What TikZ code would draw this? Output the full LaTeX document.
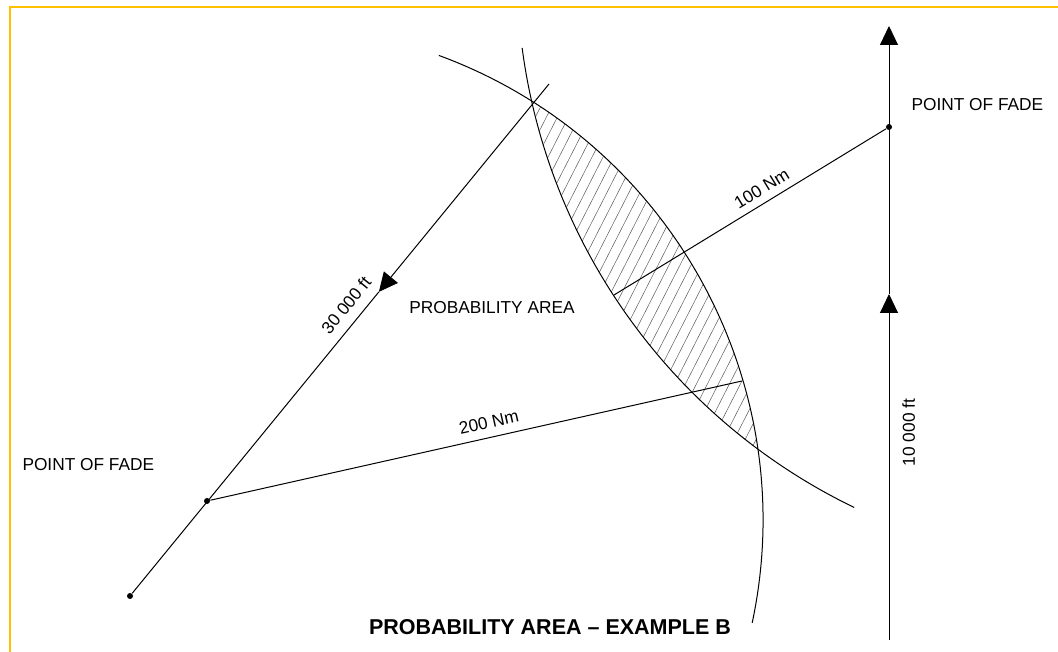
\documentclass[tikz,border=0pt]{standalone}
\usepackage{fontspec}
\setmainfont{Liberation Sans}
\definecolor{framegold}{RGB}{255,192,0}
\definecolor{hatchgray}{RGB}{90,90,90}
\usetikzlibrary{arrows.meta,calc}

\begin{document}
\begin{tikzpicture}[x=1pt, y=1pt, line width=1pt,
    lbl/.style={font=\fontsize{17.3}{20}\selectfont, inner sep=0pt},
    fadedot/.style={circle, fill=black, inner sep=0pt, minimum size=6pt},
    tri/.style={-{Triangle[length=19pt, width=18pt]}},
    hatchline/.style={hatchgray, line width=0.5pt}]
  \useasboundingbox (0,0) rectangle (1058,652);
  % frame
  \draw[framegold, line width=2pt] (10,0) -- (10,645) -- (1058,645);

  % centres of the two range arcs
  \coordinate (cA) at (268,132);
  \coordinate (cB) at (1114,682);

  % hatched probability region
  \begin{scope}
    \clip ($(cA)+(57.8:495)$) arc[start angle=57.8, end angle=8.5, radius=495]
      -- ($(cB)+(233:597)$) arc[start angle=233, end angle=192.7, radius=597] -- cycle;
    \foreach \k in {-24,...,20}
      \draw[hatchline] (640+\k*11,330) ++(243:300) -- ++(63:600);
  \end{scope}

  % range arcs
  \draw (cA) ++(69.8:495) arc[start angle=69.8, end angle=-12, radius=495];
  \draw (cB) ++(187.5:597) arc[start angle=187.5, end angle=244.2, radius=597];

  % points of fade
  \node[fadedot] (startL) at (130,56) {};
  \node[fadedot] (fadeL) at (207,151) {};
  \node[fadedot] (fadeR) at (889,525) {};

  % first track, descending
  \coordinate (diagEnd) at (549,568);
  \coordinate (diagTip) at ($(startL)!0.594!(diagEnd)$);
  \draw[tri] (diagEnd) -- (diagTip);
  \draw (diagTip) -- (startL) node[lbl, pos=0.08, sloped, above=10pt] {30 000 ft};

  % second track, climbing
  \coordinate (vBot) at (889,12);
  \coordinate (vMid) at (889,358);
  \coordinate (vTop) at (889,626);
  \draw[tri] (vBot) -- (vMid) node[lbl, pos=0.6, sloped, below=12.8pt] {10 000 ft};
  \draw[tri] (vMid) -- (vTop);

  % ranges
  \coordinate (end100) at (614,357);
  \coordinate (end200) at (742,271);
  \draw (end100) -- (fadeR) node[lbl, pos=0.57, sloped, above=7.5pt] {100 Nm};
  \draw (fadeL) -- (end200) node[lbl, pos=0.53, sloped, above=8.4pt] {200 Nm};

  % labels
  \node[lbl] (probArea) at (492,344) {PROBABILITY AREA};
  \node[lbl, anchor=west] (fadeTxtL) at (22,187) {POINT OF FADE};
  \node[lbl, anchor=west] (fadeTxtR) at (911,547) {POINT OF FADE};
  \node[font=\fontsize{21.5}{24}\selectfont\bfseries, inner sep=0pt] (title) at (550,25)
    {PROBABILITY AREA -- EXAMPLE B};
\end{tikzpicture}
\end{document}
